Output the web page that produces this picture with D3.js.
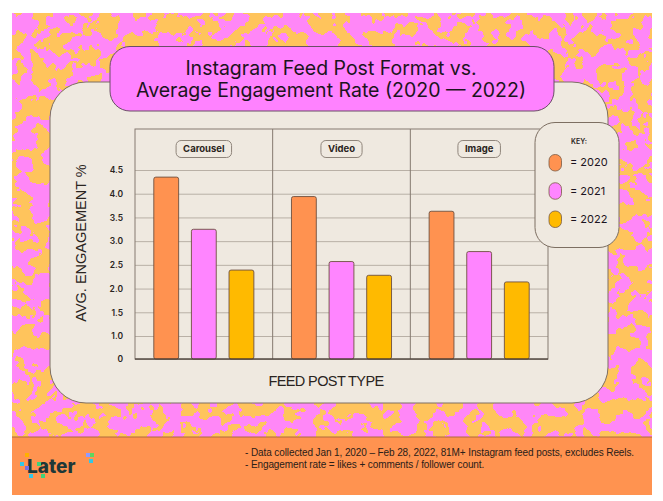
<!DOCTYPE html>
<html>
<head>
<meta charset="utf-8">
<script src="https://cdn.jsdelivr.net/npm/d3@7"></script>
<style>
  body { margin: 0; background: #fff; }
  svg { display: block; }
</style>
</head>
<body>
<div id="chart"></div>
<script>
// data
const categories = ["Carousel", "Video", "Image"];
const years = ["2020", "2021", "2022"];
const rate2020 = [4.35, 3.94, 3.63];
const rate2021 = [3.25, 2.57, 2.78];
const rate2022 = [2.39, 2.28, 2.14];
const yTicks = [0, 1.0, 1.5, 2.0, 2.5, 3.0, 3.5, 4.0, 4.5];
const footNotes = [
  "- Data collected Jan 1, 2020 \u2013 Feb 28, 2022, 81M+ Instagram feed posts, excludes Reels.",
  "- Engagement rate = likes + comments / follower count."
];

const yearColor = { "2020": "#ff9250", "2021": "#ff85ff", "2022": "#ffba00" };
const W = 663, H = 501;

const svg = d3.select("#chart").append("svg")
  .attr("width", W)
  .attr("height", H);

// blotchy pink / yellow background
const defs = svg.append("defs");
const f = defs.append("filter")
  .attr("id", "blobs")
  .attr("filterUnits", "userSpaceOnUse")
  .attr("x", 12).attr("y", 13).attr("width", 640).attr("height", 424)
  .attr("color-interpolation-filters", "sRGB");
f.append("feTurbulence")
  .attr("type", "fractalNoise")
  .attr("baseFrequency", 0.06)
  .attr("numOctaves", 3)
  .attr("seed", 11);
f.append("feColorMatrix")
  .attr("type", "matrix")
  .attr("values", "0 0 0 0 1  0 0 0 0 0.53  0 0 0 0 0.97  1 0 0 0 0");
f.append("feComponentTransfer")
  .append("feFuncA").attr("type", "discrete").attr("tableValues", "0 0 0 0 0 0 0 0 0 0 1 1 1 1 1 1 1 1 1 1");

svg.append("rect")
  .attr("x", 12).attr("y", 13).attr("width", 640).attr("height", 424)
  .attr("fill", "#ffc45c");
svg.append("rect")
  .attr("x", 12).attr("y", 13).attr("width", 640).attr("height", 424)
  .attr("fill", "#000")
  .attr("filter", "url(#blobs)");

// footer band
svg.append("rect")
  .attr("x", 12).attr("y", 437).attr("width", 640).attr("height", 58)
  .attr("fill", "#ff9350");
svg.append("line")
  .attr("x1", 12).attr("x2", 652).attr("y1", 437).attr("y2", 437)
  .attr("stroke", "#b06a3a").attr("stroke-width", 1);

// main cream panel
svg.append("rect")
  .attr("x", 50).attr("y", 82).attr("width", 558).attr("height", 321)
  .attr("rx", 36)
  .attr("fill", "#efe9e0")
  .attr("stroke", "#7d6f62").attr("stroke-width", 1);

// title box
svg.append("rect")
  .attr("x", 110).attr("y", 46.5).attr("width", 444).attr("height", 64.5)
  .attr("rx", 20)
  .attr("fill", "#ff82ff")
  .attr("stroke", "#6b4f66").attr("stroke-width", 1);
const title = svg.append("text")
  .attr("text-anchor", "middle")
  .attr("font-family", "Inter, 'Open Sans', sans-serif")
  .attr("font-size", 19.5)
  .attr("fill", "#1c1420");
title.append("tspan").attr("x", 331).attr("y", 75).text("Instagram Feed Post Format vs.");
title.append("tspan").attr("x", 331).attr("y", 97).text("Average Engagement Rate (2020 \u2014 2022)");

// chart frame
const frame = { left: 135, right: 548, top: 129, bottom: 359 };

const x = d3.scaleBand()
  .domain(categories)
  .range([frame.left, frame.right])
  .padding(0);

const xYear = d3.scaleBand()
  .domain(years)
  .range([0, x.bandwidth()])
  .paddingInner(0.34)
  .paddingOuter(0.5);

// axis is compressed between 0 and 1
const y = d3.scaleLinear()
  .domain([0, 1, 4.5])
  .range([frame.bottom, 336, 170]);

const g = svg.append("g");

// gridlines
g.append("g")
  .attr("transform", `translate(${frame.left},0)`)
  .call(d3.axisLeft(y).tickValues(yTicks).tickSize(-(frame.right - frame.left)).tickFormat(""))
  .call(s => s.select(".domain").remove())
  .call(s => s.selectAll(".tick line").attr("stroke", "#b9b0a6").attr("stroke-width", 1));

// frame borders and dividers
g.append("rect")
  .attr("x", frame.left).attr("y", frame.top)
  .attr("width", frame.right - frame.left).attr("height", frame.bottom - frame.top)
  .attr("fill", "none").attr("stroke", "#857a70").attr("stroke-width", 1);
g.selectAll("line.div")
  .data(categories.slice(1))
  .enter().append("line")
  .attr("class", "div")
  .attr("x1", d => x(d)).attr("x2", d => x(d))
  .attr("y1", frame.top).attr("y2", frame.bottom)
  .attr("stroke", "#857a70").attr("stroke-width", 1);

// y tick labels
g.append("g")
  .attr("transform", `translate(${frame.left},0)`)
  .call(d3.axisLeft(y).tickValues(yTicks).tickSize(0).tickPadding(12)
    .tickFormat(d => d === 0 ? "0" : d.toFixed(1)))
  .call(s => s.select(".domain").remove())
  .call(s => s.selectAll("text")
    .attr("font-family", "Inter, 'Open Sans', sans-serif")
    .attr("font-size", 8.5)
    .attr("font-weight", 600)
    .attr("fill", "#2a2420"));

// bars
const rows = [];
categories.forEach((c, i) => {
  rows.push({ cat: c, year: "2020", value: rate2020[i] });
  rows.push({ cat: c, year: "2021", value: rate2021[i] });
  rows.push({ cat: c, year: "2022", value: rate2022[i] });
});

g.selectAll("rect.bar")
  .data(rows)
  .enter().append("rect")
  .attr("class", "bar")
  .attr("x", d => x(d.cat) + xYear(d.year))
  .attr("y", d => y(d.value))
  .attr("width", xYear.bandwidth())
  .attr("height", d => y(0) - y(d.value))
  .attr("rx", 2)
  .attr("fill", d => yearColor[d.year])
  .attr("stroke", "#6e5040")
  .attr("stroke-width", 0.9);

// baseline
g.append("line")
  .attr("x1", frame.left).attr("x2", frame.right)
  .attr("y1", y(0)).attr("y2", y(0))
  .attr("stroke", "#3a302a").attr("stroke-width", 1.2);

// category tags
const tags = g.selectAll("g.tag")
  .data(categories)
  .enter().append("g")
  .attr("class", "tag")
  .attr("transform", d => `translate(${x(d) + x.bandwidth() / 2},149)`);
tags.append("text")
  .attr("text-anchor", "middle")
  .attr("dy", "0.35em")
  .attr("font-family", "Inter, 'Open Sans', sans-serif")
  .attr("font-size", 9.5)
  .attr("font-weight", 700)
  .attr("fill", "#2a2420")
  .text(d => d);
tags.each(function() {
  const t = d3.select(this).select("text");
  const w = t.node().getComputedTextLength();
  d3.select(this).insert("rect", "text")
    .attr("x", -w / 2 - 7).attr("y", -8.5)
    .attr("width", w + 14).attr("height", 17)
    .attr("rx", 5)
    .attr("fill", "#efe9e0")
    .attr("stroke", "#8f857b").attr("stroke-width", 1);
});

// axis titles
svg.append("text")
  .attr("transform", "translate(86,243) rotate(-90)")
  .attr("text-anchor", "middle")
  .attr("font-family", "'Liberation Sans', Arial, sans-serif")
  .attr("font-size", 14.5)
  .attr("fill", "#2a2420")
  .text("AVG. ENGAGEMENT %");

svg.append("text")
  .attr("x", 326).attr("y", 386)
  .attr("text-anchor", "middle")
  .attr("font-family", "'Liberation Sans', Arial, sans-serif")
  .attr("font-size", 14.5)
  .attr("letter-spacing", -0.6)
  .attr("fill", "#2a2420")
  .text("FEED POST TYPE");

// key box
svg.append("rect")
  .attr("x", 535).attr("y", 122.5).attr("width", 84).attr("height", 125)
  .attr("rx", 20)
  .attr("fill", "#efe9e0")
  .attr("stroke", "#7d6f62").attr("stroke-width", 1);
svg.append("text")
  .attr("x", 579).attr("y", 144)
  .attr("text-anchor", "middle")
  .attr("font-family", "Inter, 'Open Sans', sans-serif")
  .attr("font-size", 7)
  .attr("font-weight", 600)
  .attr("fill", "#2a2420")
  .text("KEY:");

const keyY = d3.scalePoint().domain(years).range([162.5, 219]);
const key = svg.selectAll("g.key")
  .data(years)
  .enter().append("g")
  .attr("class", "key")
  .attr("transform", d => `translate(549,${keyY(d)})`);
key.append("rect")
  .attr("x", 0).attr("y", -8).attr("width", 12.5).attr("height", 16.5)
  .attr("rx", 6)
  .attr("fill", d => yearColor[d])
  .attr("stroke", "#7a5a44").attr("stroke-width", 0.8);
key.append("text")
  .attr("x", 21).attr("dy", "0.36em")
  .attr("font-family", "Inter, 'Open Sans', sans-serif")
  .attr("font-size", 11)
  .attr("fill", "#1c1420")
  .text(d => "= " + d);

// footer logo
const logo = svg.append("g");
logo.append("text")
  .attr("x", 27).attr("y", 473)
  .attr("font-family", "Inter, 'Open Sans', sans-serif")
  .attr("font-size", 19)
  .attr("font-weight", 800)
  .attr("fill", "#1e3838")
  .text("Later");
[[25, 453, "#ffb000"], [20, 462, "#33c7e6"], [25, 466, "#7a6de0"], [29, 474, "#33c7e6"],
 [37, 462, "#3fd27a"], [41, 474, "#3fd27a"], [86, 453, "#8f9bff"], [90, 453, "#5fd65f"], [89, 459, "#33c7e6"]]
  .forEach(p => logo.append("rect")
    .attr("x", p[0]).attr("y", p[1]).attr("width", 4).attr("height", 4).attr("fill", p[2]));

// footnotes
svg.selectAll("text.note")
  .data(footNotes)
  .enter().append("text")
  .attr("class", "note")
  .attr("x", 245)
  .attr("y", (d, i) => 456 + i * 11.5)
  .attr("font-family", "'Liberation Sans', Arial, sans-serif")
  .attr("font-size", 10)
  .attr("letter-spacing", -0.1)
  .attr("fill", "#2a2018")
  .text(d => d);
</script>
</body>
</html>
